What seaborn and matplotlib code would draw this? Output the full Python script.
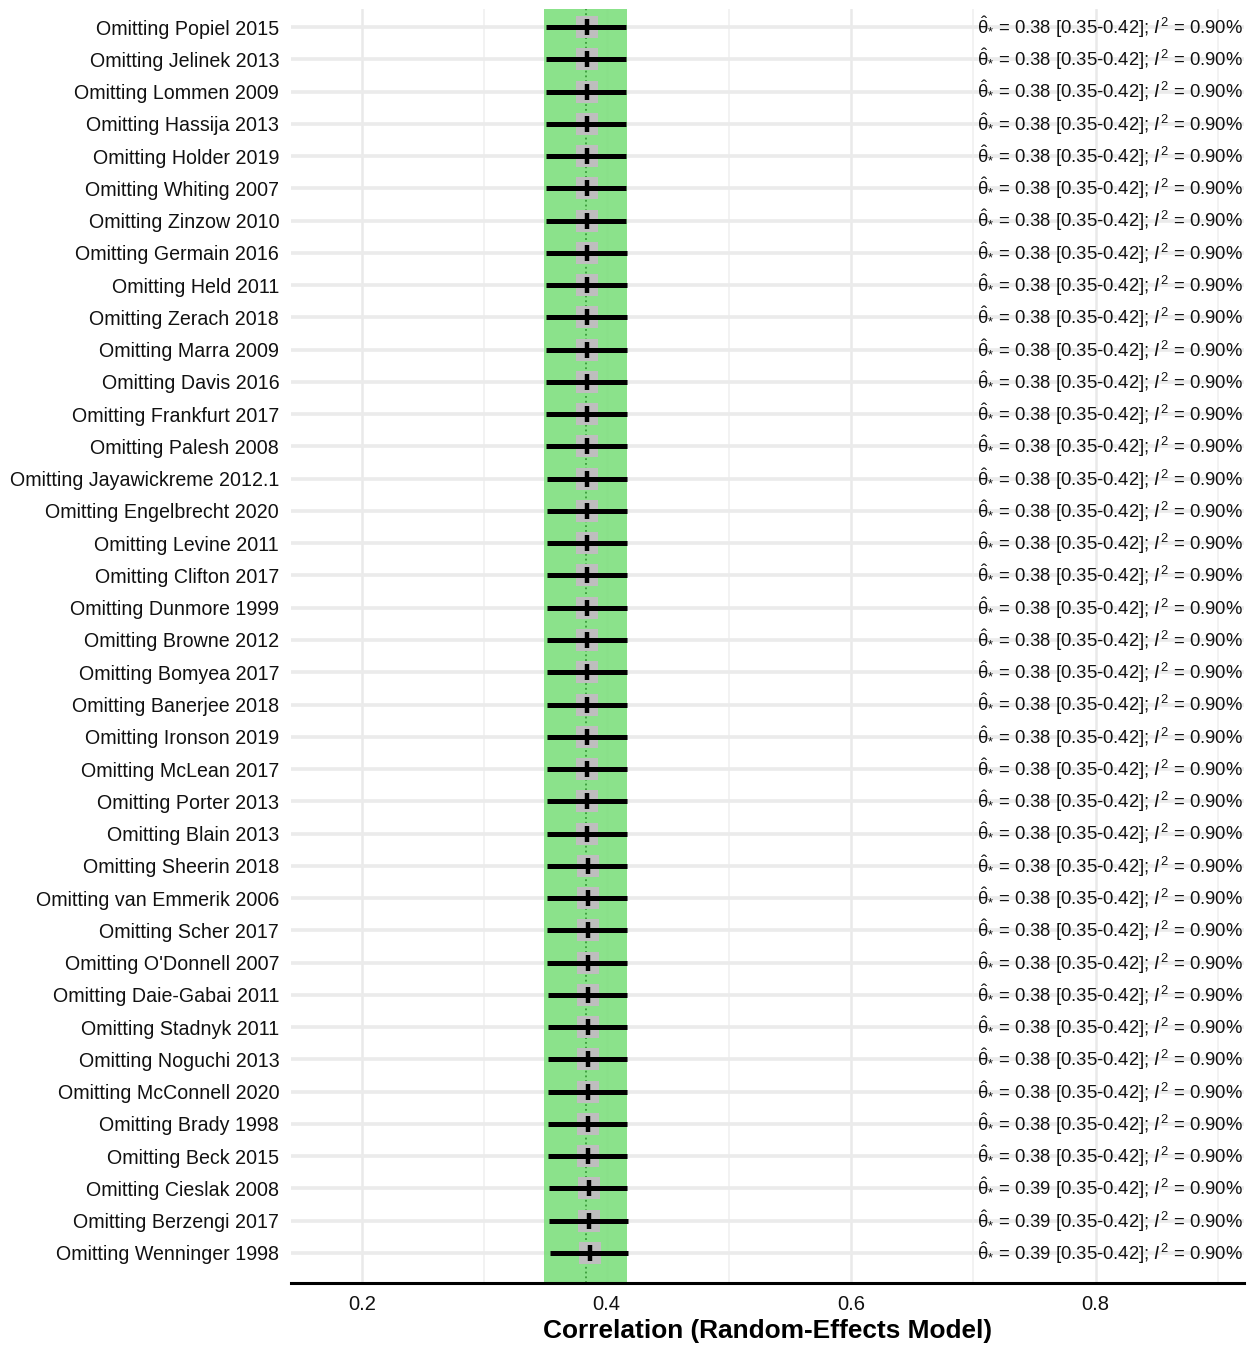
import numpy as np
import pandas as pd
import matplotlib
matplotlib.use("Agg")
import matplotlib.pyplot as plt
import seaborn as sns

# --- data ---
studies = [
    "Popiel 2015", "Jelinek 2013", "Lommen 2009", "Hassija 2013", "Holder 2019",
    "Whiting 2007", "Zinzow 2010", "Germain 2016", "Held 2011", "Zerach 2018",
    "Marra 2009", "Davis 2016", "Frankfurt 2017", "Palesh 2008",
    "Jayawickreme 2012.1", "Engelbrecht 2020", "Levine 2011", "Clifton 2017",
    "Dunmore 1999", "Browne 2012", "Bomyea 2017", "Banerjee 2018",
    "Ironson 2019", "McLean 2017", "Porter 2013", "Blain 2013", "Sheerin 2018",
    "van Emmerik 2006", "Scher 2017", "O'Donnell 2007", "Daie-Gabai 2011",
    "Stadnyk 2011", "Noguchi 2013", "McConnell 2020", "Brady 1998",
    "Beck 2015", "Cieslak 2008", "Berzengi 2017", "Wenninger 1998",
]
estimates = [
    0.3836, 0.3836, 0.3836, 0.3837, 0.3837, 0.3837, 0.3837, 0.3837, 0.3838,
    0.3838, 0.3838, 0.3838, 0.3838, 0.3839, 0.3839, 0.3839, 0.3839, 0.3840,
    0.3840, 0.3840, 0.3840, 0.3841, 0.3841, 0.3841, 0.3842, 0.3842, 0.3843,
    0.3844, 0.3844, 0.3845, 0.3845, 0.3846, 0.3846, 0.3847, 0.3847, 0.3848,
    0.3852, 0.3857, 0.3863,
]
ci_lower = [
    0.3503, 0.3503, 0.3504, 0.3504, 0.3504, 0.3505, 0.3505, 0.3505, 0.3506,
    0.3506, 0.3506, 0.3507, 0.3507, 0.3507, 0.3508, 0.3508, 0.3508, 0.3509,
    0.3509, 0.3509, 0.3510, 0.3510, 0.3510, 0.3511, 0.3511, 0.3512, 0.3512,
    0.3513, 0.3514, 0.3515, 0.3516, 0.3517, 0.3518, 0.3519, 0.3520, 0.3522,
    0.3526, 0.3531, 0.3536,
]
ci_upper = [
    0.4160, 0.4160, 0.4160, 0.4161, 0.4161, 0.4161, 0.4161, 0.4162, 0.4162,
    0.4162, 0.4162, 0.4163, 0.4163, 0.4163, 0.4163, 0.4164, 0.4164, 0.4164,
    0.4164, 0.4165, 0.4165, 0.4165, 0.4165, 0.4166, 0.4166, 0.4166, 0.4166,
    0.4167, 0.4167, 0.4167, 0.4168, 0.4168, 0.4168, 0.4169, 0.4169, 0.4169,
    0.4170, 0.4171, 0.4172,
]
i2_values = [0.90] * len(studies)

pooled_est = 0.3828
pooled_lo, pooled_hi = 0.3489, 0.4166

df = pd.DataFrame({
    "label": ["Omitting " + s for s in studies],
    "est": estimates, "lo": ci_lower, "hi": ci_upper, "i2": i2_values,
})
df["pos"] = np.arange(len(df))

# --- plot ---
sns.set_style("white")
plt.rcParams["font.family"] = ["Liberation Sans", "DejaVu Sans"]
plt.rcParams["mathtext.fontset"] = "custom"
plt.rcParams["mathtext.rm"] = "Liberation Sans"
plt.rcParams["mathtext.it"] = "Liberation Sans:italic"
plt.rcParams["mathtext.bf"] = "Liberation Sans:bold"
plt.rcParams["text.color"] = "#111111"
plt.rcParams["axes.labelcolor"] = "#111111"

fig = plt.figure(figsize=(12.58, 13.45), dpi=100)
ax = fig.add_axes([291 / 1258, 62 / 1345, 953 / 1258, 1274 / 1345])

# grid
for x in [0.2, 0.4, 0.6, 0.8]:
    ax.axvline(x, color="#e9e9e9", lw=1.8, zorder=0)
for x in [0.3, 0.5, 0.7, 0.9]:
    ax.axvline(x, color="#f1f1f1", lw=1.3, zorder=0)
for y in df["pos"]:
    ax.axhline(y, color="#ebebeb", lw=2.6, zorder=0)

# pooled confidence band + pooled estimate
ax.axvspan(pooled_lo, pooled_hi, color="#7fdf7f", alpha=0.9, lw=0, zorder=1)
ax.axvline(pooled_est, color="#3a9a3a", ls=":", lw=1.3, zorder=2)

sns.scatterplot(data=df, x="est", y="pos", marker="s", s=250, color="#bebebe",
                linewidth=0, ax=ax, zorder=3, legend=False)
ax.hlines(df["pos"], df["lo"], df["hi"], color="black", lw=3.6, zorder=4)
sns.scatterplot(data=df, x="est", y="pos", marker="|", s=130, color="black",
                linewidth=3.2, ax=ax, zorder=5, legend=False)

for _, r in df.iterrows():
    txt = (r"$\hat{\mathrm{\theta}}_{*}$" + f" = {r.est:.2f} [{r.lo:.2f}-{r.hi:.2f}]; "
           + r"$\mathit{I}^{2}$" + f" = {r.i2:.2f}%")
    ax.text(0.9205, r.pos, txt, ha="right", va="center", fontsize=13.3,
            color="#111111", zorder=6)

ax.set_xlim(0.1417, 0.9214)
ax.set_ylim(38.93, -0.558)
ax.set_yticks(df["pos"])
ax.set_yticklabels(df["label"], fontsize=14.1)
ax.set_xticks([0.2, 0.4, 0.6, 0.8])
ax.set_xticklabels(["0.2", "0.4", "0.6", "0.8"], fontsize=14.5)
ax.tick_params(axis="y", length=0, pad=8.5, labelcolor="#111111")
ax.tick_params(axis="x", length=4.5, width=1.8, color="black", pad=4, labelcolor="#111111")
ax.set_xlabel("Correlation (Random-Effects Model)", fontsize=18.9, fontweight="bold",
              labelpad=4, color="black")
ax.set_ylabel("")

for side in ["left", "right", "top"]:
    ax.spines[side].set_visible(False)
ax.spines["bottom"].set_linewidth(2.2)
ax.spines["bottom"].set_color("black")

fig.savefig("out.png", dpi=100)
